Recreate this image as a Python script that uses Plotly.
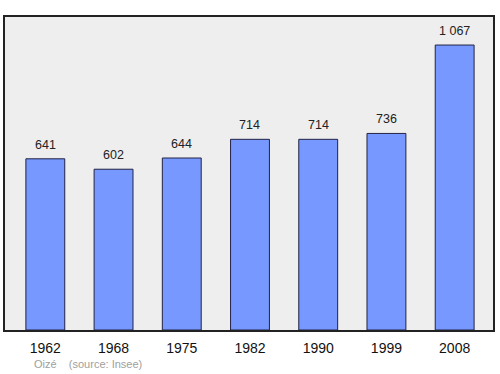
import plotly.graph_objects as go

years = ["1962", "1968", "1975", "1982", "1990", "1999", "2008"]
population = [641, 602, 644, 714, 714, 736, 1067]
labels = ["641", "602", "644", "714", "714", "736", "1 067"]

xs = list(range(len(years)))

fig = go.Figure()
fig.add_trace(go.Bar(
    x=xs, y=population, width=0.57,
    marker=dict(color="#7799ff", line=dict(color="#222244", width=1)),
    hoverinfo="skip",
))

for x, y, t in zip(xs, population, labels):
    fig.add_annotation(x=x, y=y, text=t, showarrow=False, yanchor="bottom",
                       yshift=5, font=dict(size=12.5, color="#222222",
                                           family="Liberation Sans, Arial, sans-serif"))

fig.add_annotation(xref="paper", yref="paper", x=0.055, y=-0.109, xanchor="left",
                   yanchor="middle", showarrow=False,
                   text="Oizé&nbsp;&nbsp;&nbsp;&nbsp;(source: Insee)",
                   font=dict(size=11, color="#a0a0a0",
                             family="Liberation Sans, Arial, sans-serif"))

fig.update_layout(
    width=500, height=374,
    margin=dict(l=5, r=5, t=17, b=44),
    paper_bgcolor="white", plot_bgcolor="#eeeeee",
    showlegend=False,
    font=dict(family="Liberation Sans, Arial, sans-serif"),
    xaxis=dict(range=[-0.591, 6.562], tickvals=xs, ticktext=years,
               showgrid=False, zeroline=False, ticks="",
               tickfont=dict(size=14, color="#111111"), ticklabelstandoff=4,
               showline=True, mirror=True, linecolor="#222222", linewidth=1.5),
    yaxis=dict(range=[0, 1172], showgrid=False, zeroline=False,
               showticklabels=False, ticks="",
               showline=True, mirror=True, linecolor="#222222", linewidth=1.5),
)

fig.write_html("out.html")
